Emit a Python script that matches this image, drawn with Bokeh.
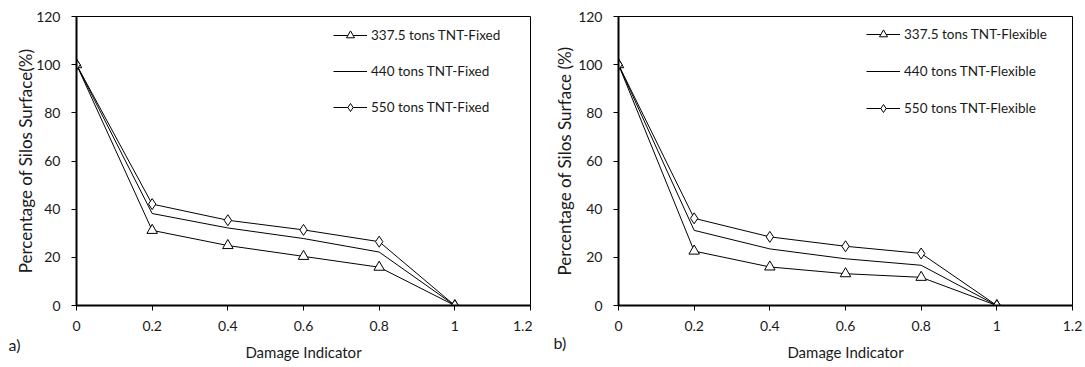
from bokeh.plotting import figure
from bokeh.layouts import row
from bokeh.models import FixedTicker, Label, Legend
from bokeh.embed import file_html
from bokeh.resources import INLINE

# ---------------- data ----------------
damage = [0, 0.2, 0.4, 0.6, 0.8, 1.0]

fixed_337 = [100, 31.2, 24.9, 20.4, 15.9, 0]
fixed_440 = [100, 38.2, 32.2, 27.8, 22.2, 0]
fixed_550 = [100, 42.1, 35.4, 31.4, 26.5, 0]

flex_337 = [100, 22.6, 16.0, 13.2, 11.7, 0]
flex_440 = [100, 31.2, 23.5, 19.4, 16.7, 0]
flex_550 = [100, 36.2, 28.5, 24.6, 21.6, 0]

x_ticks = [0, 0.2, 0.4, 0.6, 0.8, 1.0, 1.2]
x_tick_labels = ["0", "0.2", "0.4", "0.6", "0.8", "1", "1.2"]
y_ticks = [0, 20, 40, 60, 80, 100, 120]

labels_a = ["337.5 tons TNT-Fixed", "440 tons TNT-Fixed", "550 tons TNT-Fixed"]
labels_b = ["337.5 tons TNT-Flexible", "440 tons TNT-Flexible", "550 tons TNT-Flexible"]

FONT = "Lato"
TXT = "#1a1a1a"


def make_panel(series, labels, ylabel, tag, width, bl, br,
               leg_loc, leg_spacing, tag_xy, ylab_standoff):
    p = figure(width=width, height=367, output_backend="svg",
               toolbar_location=None, x_range=(0, 1.2), y_range=(0, 120),
               min_border_left=bl, min_border_right=br,
               min_border_top=16, min_border_bottom=62)
    p.xgrid.visible = False
    p.ygrid.visible = False
    p.outline_line_color = "black"
    p.outline_line_width = 1
    p.background_fill_color = "white"
    p.border_fill_color = "white"

    p.xaxis.ticker = FixedTicker(ticks=x_ticks)
    p.xaxis.major_label_overrides = {t: s for t, s in zip(x_ticks, x_tick_labels)}
    p.yaxis.ticker = FixedTicker(ticks=y_ticks)
    for ax in (p.xaxis, p.yaxis):
        ax.axis_line_color = "black"
        ax.axis_line_width = 2
        ax.major_tick_line_color = "black"
        ax.major_tick_line_width = 1
        ax.major_tick_in = 0
        ax.major_tick_out = 5
        ax.minor_tick_line_color = None
        ax.major_label_text_font = FONT
        ax.major_label_text_font_size = "14px"
        ax.major_label_text_color = TXT
        ax.axis_label_text_font = FONT
        ax.axis_label_text_font_style = "normal"
        ax.axis_label_text_color = TXT
    p.xaxis.axis_label_text_font_size = "15px"
    p.yaxis.axis_label_text_font_size = "17px"
    p.xaxis.major_label_standoff = 10
    p.yaxis.major_label_standoff = 11
    p.xaxis.axis_label = "Damage Indicator"
    p.xaxis.axis_label_standoff = 9
    p.yaxis.axis_label = ylabel
    p.yaxis.axis_label_standoff = ylab_standoff

    s1, s2, s3 = series
    r1 = p.line(damage, s1, line_color="black", line_width=1)
    m1 = p.scatter(damage, s1, marker="triangle", size=10.5,
                   fill_color="white", line_color="black", line_width=1)
    r2 = p.line(damage, s2, line_color="black", line_width=1)
    r3 = p.line(damage, s3, line_color="black", line_width=1)
    m3 = p.scatter(damage, s3, marker="diamond", size=11,
                   fill_color="white", line_color="black", line_width=1)
    items = [(labels[0], [r1, m1]), (labels[1], [r2]), (labels[2], [r3, m3])]
    legend = Legend(items=items, location=leg_loc, padding=0, margin=0,
                    spacing=leg_spacing, glyph_width=34, glyph_height=20,
                    label_height=20, label_standoff=4,
                    border_line_color=None, background_fill_alpha=0,
                    label_text_font=FONT, label_text_font_size="13.5px",
                    label_text_color=TXT)
    p.add_layout(legend, "center")

    p.add_layout(Label(x=tag_xy[0], y=tag_xy[1], x_units="screen",
                       y_units="screen", text=tag, text_font=FONT,
                       text_font_size="16px", text_color=TXT,
                       text_baseline="middle", text_align="left"), "left")
    return p


pa = make_panel((fixed_337, fixed_440, fixed_550), labels_a,
                "Percentage of Silos Surface(%)", "a)",
                width=532, bl=76, br=2,
                leg_loc=(257, 188), leg_spacing=16, tag_xy=(8, -39),
                ylab_standoff=-3)
pb = make_panel((flex_337, flex_440, flex_550), labels_b,
                "Percentage of Silos Surface (%)", "b)",
                width=553, bl=86, br=13,
                leg_loc=(248, 187), leg_spacing=17, tag_xy=(15, -37),
                ylab_standoff=0)

layout = row(pa, pb, spacing=0)
open("out.html", "w").write(file_html(layout, INLINE))
